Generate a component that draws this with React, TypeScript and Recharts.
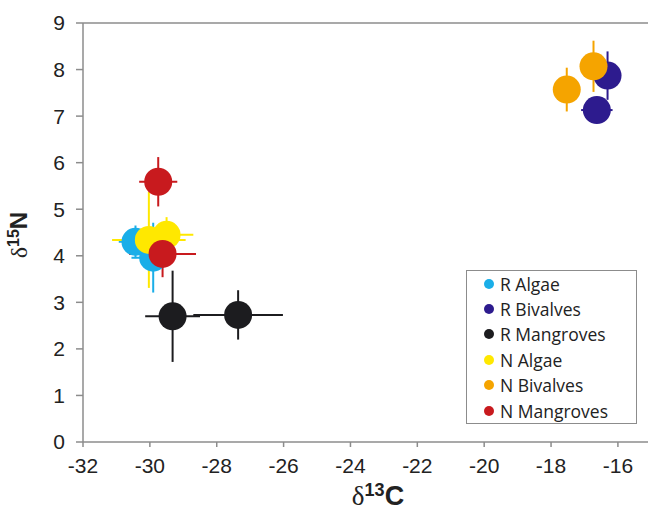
import { ScatterChart, Scatter, XAxis, YAxis, ErrorBar, ReferenceLine } from 'recharts'

// points: x = d13C, y = d15N, ex/ey = error half-widths
const rAlgae = [
    { x: -30.43, y: 4.3, ex: 0.5, ey: 0.35 },
    { x: -29.9, y: 3.96, ex: 0.65, ey: 0.75 },
]
const rBivalves = [
    { x: -16.31, y: 7.87, ex: 0.3, ey: 0.52 },
    { x: -16.63, y: 7.13, ex: 0.47, ey: 0.28 },
]
const rMangroves = [
    { x: -29.32, y: 2.7, ex: 0.82, ey: 0.98 },
    { x: -27.36, y: 2.73, ex: 1.34, ey: 0.53 },
]
const nAlgae = [
    { x: -30.03, y: 4.34, ex: 1.1, ey: 1.03 },
    { x: -29.5, y: 4.45, ex: 0.8, ey: 0.38 },
]
const nBivalves = [
    { x: -17.53, y: 7.57, ex: 0, ey: 0.47 },
    { x: -16.73, y: 8.07, ex: 0, ey: 0.55 },
]
const nMangroves = [
    { x: -29.75, y: 5.59, ex: 0.57, ey: 0.53 },
    { x: -29.62, y: 4.04, ex: 1.0, ey: 0.5 },
]

const seriesNames = ['R Algae', 'R Bivalves', 'R Mangroves', 'N Algae', 'N Bivalves', 'N Mangroves']
const seriesData = [rAlgae, rBivalves, rMangroves, nAlgae, nBivalves, nMangroves]
const colors = ['#1AAEE8', '#2D1B8E', '#1C1C1F', '#FFE800', '#F5A400', '#C81A1E']

const xTicks = [-32, -30, -28, -26, -24, -22, -20, -18, -16]
const yTicks = [0, 1, 2, 3, 4, 5, 6, 7, 8, 9]

const axisColor = '#8C8C8C'
const tickStyle = { fill: '#222', fontSize: 21, fontFamily: '"Liberation Sans", Arial, sans-serif' }

// legend drawn as a plain box over the plot, in series order
const LegendBox = () => (
    <div style={{
        position: 'absolute',
        left: 466,
        top: 270,
        width: 171,
        height: 154,
        border: '1px solid #8C8C8C',
        background: '#fff',
        boxSizing: 'border-box',
        fontFamily: '"Open Sans", sans-serif',
        fontSize: 17.5,
        color: '#222',
    }}>
        {seriesNames.map((name, i) => (
            <div key={name} style={{ display: 'flex', alignItems: 'center', height: 25.4, paddingLeft: 17 }}>
                <span style={{ width: 10, height: 10, borderRadius: '50%', background: colors[i], marginRight: 6 }} />
                <span>{name}</span>
            </div>
        ))}
    </div>
)

const XTitle = () => (
    <text x={378} y={505} textAnchor="middle" fill="#222" fontFamily='"Liberation Sans", Arial, sans-serif' fontWeight="bold" fontSize={27}>
        <tspan fontFamily='"Liberation Serif", serif' fontWeight="normal">δ</tspan>
        <tspan fontSize={18} dy={-9}>13</tspan>
        <tspan dy={9}>C</tspan>
    </text>
)

const YTitle = () => (
    <text x={27} y={235} transform="rotate(-90, 27, 235)" textAnchor="middle" fill="#222" fontFamily='"Liberation Sans", Arial, sans-serif' fontWeight="bold" fontSize={24}>
        <tspan fontFamily='"Liberation Serif", serif' fontWeight="normal">δ</tspan>
        <tspan fontSize={16} dy={-8}>15</tspan>
        <tspan dy={8}>N</tspan>
    </text>
)

export default function App() {
    return (
        <div style={{ position: 'absolute', left: 0, top: 0, width: 648, height: 511, background: '#fff' }}>
            <ScatterChart width={648} height={511} margin={{ top: 23, right: 0, bottom: 0, left: 0 }}>
                <XAxis
                    type="number"
                    dataKey="x"
                    domain={[-32, -15.1]}
                    ticks={xTicks}
                    allowDataOverflow
                    height={69}
                    stroke={axisColor}
                    strokeWidth={1.5}
                    tickSize={5}
                    tickMargin={11}
                    tick={tickStyle}
                    label={{ content: () => <XTitle /> }}
                />
                <YAxis
                    type="number"
                    dataKey="y"
                    domain={[0, 9]}
                    ticks={yTicks}
                    allowDataOverflow
                    width={83}
                    stroke={axisColor}
                    strokeWidth={1.5}
                    tickSize={7}
                    tickMargin={11}
                    tick={tickStyle}
                    label={{ content: () => <YTitle /> }}
                />
                <ReferenceLine y={9} stroke={axisColor} strokeWidth={1.5} />
                {seriesData.map((d, i) => (
                    <Scatter
                        key={seriesNames[i]}
                        name={seriesNames[i]}
                        data={d}
                        fill={colors[i]}
                        isAnimationActive={false}
                        shape={(p: any) => <circle cx={p.cx} cy={p.cy} r={14} fill={colors[i]} />}
                    >
                        <ErrorBar dataKey="ex" direction="x" width={0} stroke={colors[i]} strokeWidth={2} />
                        <ErrorBar dataKey="ey" direction="y" width={0} stroke={colors[i]} strokeWidth={2} />
                    </Scatter>
                ))}
            </ScatterChart>
            <LegendBox />
        </div>
    )
}
